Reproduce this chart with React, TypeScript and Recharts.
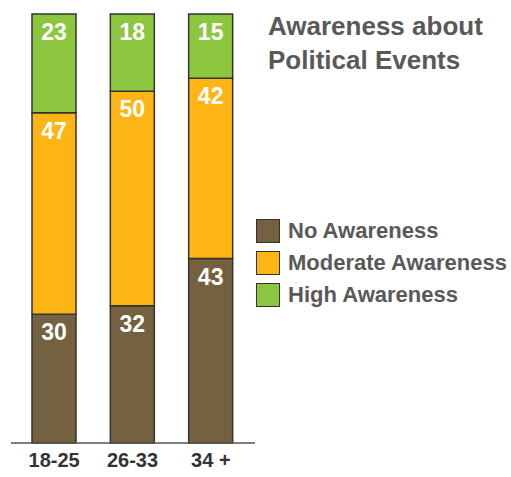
import { BarChart, Bar, XAxis, YAxis, LabelList } from 'recharts';

const ageGroups = ['18-25', '26-33', '34 +'];
const noAwareness = [30, 32, 43];
const moderateAwareness = [47, 50, 42];
const highAwareness = [23, 18, 15];

const seriesNames = ['No Awareness', 'Moderate Awareness', 'High Awareness'];
const seriesColors = ['#736140', '#FDB515', '#8CC63F'];

const data = ageGroups.map((g, i) => ({
  group: g,
  none: noAwareness[i],
  moderate: moderateAwareness[i],
  high: highAwareness[i],
}));

const FONT = '"Liberation Sans", Arial, sans-serif';

function SegmentLabel(props: any) {
  const { x, y, width, value } = props;
  return (
    <text
      x={x + width / 2}
      y={y + 18}
      textAnchor="middle"
      dominantBaseline="central"
      fill="#fff"
      fontFamily={FONT}
      fontWeight="bold"
      fontSize={23}
    >
      {value}
    </text>
  );
}

function LegendBox() {
  return (
    <div style={{ position: 'absolute', left: 256, top: 215, fontFamily: FONT }}>
      {seriesNames.map((name, i) => (
        <div key={name} style={{ display: 'flex', alignItems: 'center', height: 32 }}>
          <div
            style={{
              width: 22,
              height: 22,
              background: seriesColors[i],
              border: '1.5px solid #333',
              marginRight: 8,
            }}
          />
          <span style={{ color: '#595959', fontWeight: 'bold', fontSize: 22 }}>{name}</span>
        </div>
      ))}
    </div>
  );
}

export default function App() {
  return (
    <div style={{ position: 'absolute', left: 0, top: 0, width: 511, height: 477, background: '#fff' }}>
      <div
        style={{
          position: 'absolute',
          left: 268,
          top: 9,
          fontFamily: FONT,
          fontWeight: 'bold',
          fontSize: 26,
          lineHeight: '34px',
          color: '#595959',
        }}
      >
        Awareness about
        <br />
        Political Events
      </div>
      <LegendBox />
      <BarChart
        width={511}
        height={477}
        data={data}
        margin={{ top: 14, right: 256, bottom: 0, left: 11 }}
      >
        <XAxis
          dataKey="group"
          height={34}
          axisLine={{ stroke: '#555', strokeWidth: 1.5 }}
          tickLine={false}
          padding={{ left: 4, right: 5 }}
          tick={{ fill: '#333', fontFamily: FONT, fontWeight: 'bold', fontSize: 20 }}
          tickMargin={4}
        />
        <YAxis hide domain={[0, 100]} />
        <Bar dataKey="none" stackId="a" fill={seriesColors[0]} stroke="#333" strokeWidth={1.5} barSize={44} isAnimationActive={false}>
          <LabelList dataKey="none" content={<SegmentLabel />} />
        </Bar>
        <Bar dataKey="moderate" stackId="a" fill={seriesColors[1]} stroke="#333" strokeWidth={1.5} barSize={44} isAnimationActive={false}>
          <LabelList dataKey="moderate" content={<SegmentLabel />} />
        </Bar>
        <Bar dataKey="high" stackId="a" fill={seriesColors[2]} stroke="#333" strokeWidth={1.5} barSize={44} isAnimationActive={false}>
          <LabelList dataKey="high" content={<SegmentLabel />} />
        </Bar>
      </BarChart>
    </div>
  );
}
